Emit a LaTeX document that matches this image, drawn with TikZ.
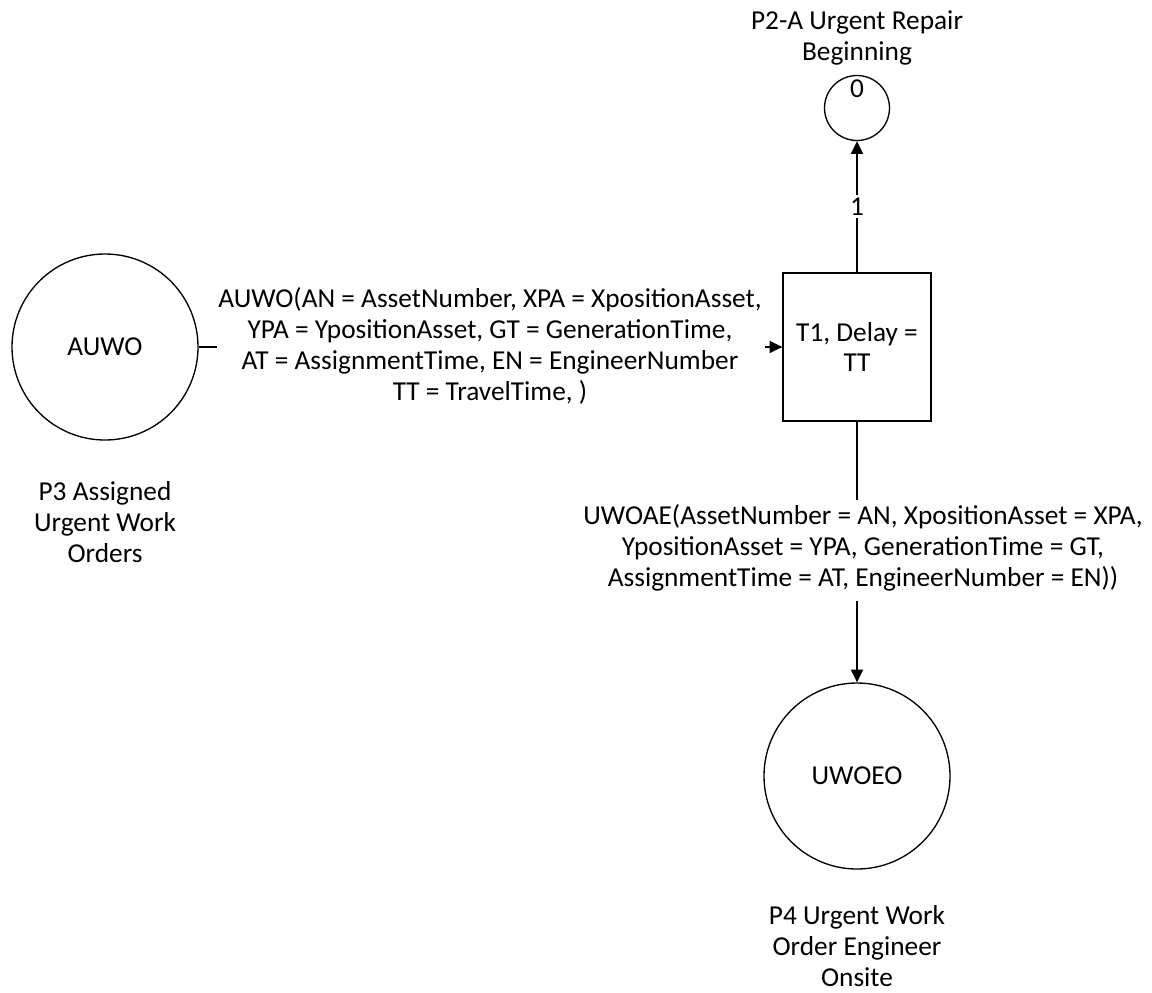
\documentclass[tikz,border=0pt]{standalone}
\usepackage{fontspec}
\setmainfont{Carlito}
\usetikzlibrary{math,arrows.meta}

\begin{document}
\begin{tikzpicture}[>/.tip={Triangle[length=9.5pt,width=9pt]},
    x=0.75pt,y=-0.75pt,line width=1pt,
    every node/.style={font=\fontsize{20.5}{23.2}\selectfont,align=center,inner sep=0pt},
    place/.style={draw,circle,minimum size=139.5pt},
    smallplace/.style={draw,circle,minimum size=48.75pt},
    trans/.style={draw,rectangle,minimum size=111pt}]
    % Positions of the places and the transition
    \tikzmath{\xl=105;\xr=857;\ym=347;\yt=108;\yb=776;}
    \useasboundingbox (0,0) rectangle (1152,992);
    % Places and transition
    \node[place] (auwo) at (\xl,\ym) {AUWO};
    \node[trans] (t1) at (\xr,\ym) {T1, Delay =\\TT};
    \node[smallplace] (p2a) at (\xr,\yt) {};
    \node[place] (uwoeo) at (\xr,\yb) {UWOEO};
    % Place names
    \node (p2aname) at (\xr,37.5) {P2-A Urgent Repair\\Beginning};
    \node (p2amark) at (\xr,89) {0};
    \node (p3name) at (\xl,522) {P3 Assigned\\Urgent Work\\Orders};
    \node (p4name) at (\xr,946) {P4 Urgent Work\\Order Engineer\\Onsite};
    % Arc into T1
    \node (inlabel) at (490,346) {AUWO(AN = AssetNumber, XPA = XpositionAsset,\\
      YPA = YpositionAsset, GT = GenerationTime,\\
      AT = AssignmentTime, EN = EngineerNumber\\
      TT = TravelTime, )};
    \coordinate (inA) at (217,\ym);
    \coordinate (inB) at (765,\ym);
    \draw (auwo) -- (inA);
    \draw[->] (inB) -- (t1.west);
    % Arc out of T1 to P2-A
    \draw[->] (t1.north) -- (p2a.south) node[pos=0.5,fill=white,inner sep=2pt] (w1) {1};
    % Arc out of T1 to P4
    \node (outlabel) at (863,548) {UWOAE(AssetNumber = AN, XpositionAsset = XPA,\\
      YpositionAsset = YPA, GenerationTime = GT,\\
      AssignmentTime = AT, EngineerNumber = EN))};
    \coordinate (outA) at (\xr,500);
    \coordinate (outB) at (\xr,601);
    \draw (t1.south) -- (outA);
    \draw[->] (outB) -- (uwoeo.north);
\end{tikzpicture}
\end{document}
